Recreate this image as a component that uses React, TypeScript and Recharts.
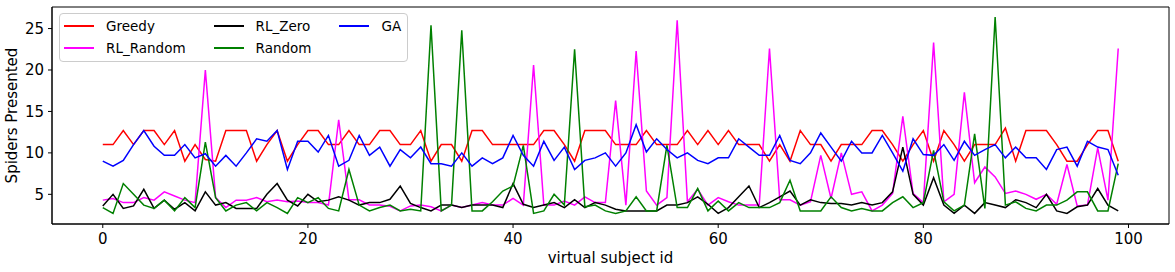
import { LineChart, Line, XAxis, YAxis, Legend, ReferenceArea } from 'recharts'

// virtual subjects 0..99
const subjectIds = Array.from({ length: 100 }, (_, i) => i)

const greedy = [
  11, 11, 12.7, 11, 12.7, 12.7, 11, 12.7, 9, 11,
  9.2, 9, 12.7, 12.7, 12.7, 9, 11, 12.7, 9, 11,
  12.7, 12.7, 11, 11, 12.7, 11, 11, 12.7, 12.7, 11,
  11, 12.7, 9, 11, 11, 9, 12.7, 12.7, 11, 11,
  11, 11, 11, 12.7, 12.7, 11, 9, 12.7, 12.7, 12.7,
  11, 11, 11, 12.7, 11, 11, 11, 12.7, 11, 12.7,
  11, 12.7, 11, 11, 11, 9, 11, 9, 12.7, 11,
  11, 9, 11, 11, 11, 12.7, 12.7, 11, 9, 11,
  12.7, 9, 12.7, 11, 9, 11, 11, 11, 13, 9,
  12.7, 12.7, 12.7, 11, 9, 9, 11, 12.7, 12.7, 9,
]

const rlRandom = [
  4.3, 4.5, 4.0, 4.0, 4.6, 4.3, 5.3, 4.8, 4.3, 4.0,
  20.0, 4.6, 3.4, 4.3, 4.3, 4.6, 4.1, 4.3, 4.1, 4.2,
  4.0, 4.0, 3.7, 14.0, 4.35, 4.35, 3.7, 3.7, 3.55, 3.0,
  3.6, 3.7, 3.5, 3.0, 3.7, 3.4, 3.7, 4.0, 3.7, 3.7,
  4.5, 3.7, 20.6, 3.7, 3.7, 4.2, 3.7, 4.7, 4.0, 4.0,
  16.3, 3.7, 22.3, 5.4, 3.7, 4.6, 26.0, 4.1, 5.6, 3.7,
  4.6, 4.1, 3.7, 3.7, 3.7, 22.6, 4.35, 4.35, 3.7, 4.1,
  9.7, 4.5, 10.0, 5.0, 5.3, 3.0, 3.7, 5.1, 14.4, 5.1,
  4.0, 23.3, 4.1, 5.0, 17.3, 6.4, 8.3, 7.1, 5.1, 5.4,
  5.0, 4.4, 5.0, 3.8, 8.6, 3.6, 3.7, 10.6, 4.3, 22.6,
]

const rlZero = [
  3.6, 5.0, 3.3, 3.6, 5.6, 3.3, 4.3, 3.2, 4.0, 3.0,
  5.3, 3.7, 4.0, 3.3, 3.3, 3.3, 5.0, 6.3, 4.3, 3.6,
  5.0, 4.1, 4.3, 4.7, 4.3, 3.7, 4.0, 4.0, 4.4, 6.0,
  3.9, 3.4, 3.0, 3.7, 3.7, 3.4, 3.7, 3.7, 3.7, 3.4,
  6.3, 3.8, 3.4, 3.7, 4.0, 3.4, 4.35, 3.4, 4.0, 3.7,
  3.2, 3.0, 3.0, 3.0, 3.0, 3.7, 3.7, 4.0, 4.7, 3.8,
  2.7, 3.4, 4.7, 6.0, 3.4, 4.0, 4.7, 5.4, 3.7, 4.35,
  4.0, 3.9, 3.9, 3.7, 4.0, 3.7, 4.0, 5.3, 10.7, 5.0,
  3.7, 7.0, 3.7, 2.7, 3.7, 2.7, 4.0, 3.7, 3.4, 4.35,
  4.0, 3.4, 5.0, 3.0, 2.7, 3.5, 3.7, 5.7, 3.7, 3.0,
]

const randomPolicy = [
  3.4, 2.7, 6.3, 5.0, 3.7, 3.3, 4.3, 3.0, 4.6, 3.4,
  11.3, 4.6, 3.0, 3.7, 4.0, 3.0, 4.0, 3.4, 2.7, 4.6,
  4.0, 4.6, 3.3, 3.0, 8.0, 3.7, 3.0, 3.4, 3.7, 3.0,
  3.2, 3.0, 25.4, 3.0, 3.7, 24.8, 3.0, 3.0, 4.1, 5.4,
  6.0, 10.9, 2.7, 3.0, 5.0, 3.7, 22.5, 3.5, 3.7, 3.0,
  2.7, 3.0, 4.7, 3.0, 3.0, 10.9, 3.4, 3.4, 5.7, 3.0,
  4.2, 3.0, 4.0, 3.4, 3.4, 3.4, 4.0, 6.7, 3.0, 3.0,
  3.0, 4.7, 3.4, 3.0, 3.3, 3.0, 3.0, 4.0, 4.7, 3.4,
  4.0, 10.3, 4.1, 3.0, 3.7, 12.3, 3.3, 26.4, 3.7, 4.1,
  3.3, 3.0, 3.7, 3.7, 4.3, 5.3, 5.3, 3.0, 3.0, 8.7,
]

const ga = [
  9.0, 8.4, 9.1, 11, 12.7, 10.8, 9.7, 9.7, 11, 9.4,
  9.9, 8.4, 9.7, 8.4, 10, 11.7, 11.4, 12.7, 8.0, 11.4,
  11.4, 10.1, 12.1, 8.4, 9.1, 12.1, 9.7, 10.7, 8.4, 10.4,
  9.4, 10.7, 8.7, 8.7, 8.4, 10, 8.4, 9.4, 8.7, 9.4,
  12.1, 9.7, 8.4, 11.4, 9.1, 10.7, 8.0, 9.1, 9.4, 10.0,
  8.4, 10.0, 13.4, 10.1, 11.7, 10.4, 9.4, 10.0, 9.1, 8.7,
  9.4, 9.4, 11.7, 10.7, 9.7, 9.7, 12.1, 9.1, 8.7, 10,
  12.4, 10.7, 9.0, 11.4, 10, 10, 12.1, 10, 7.8, 11.7,
  9.8, 9.7, 11, 9.1, 11.4, 9.7, 10.4, 11, 9.4, 10.7,
  9.4, 9.4, 8.0, 10.4, 10.7, 8.4, 11.4, 10.7, 10.4, 7.3,
]

const xTicks = [0, 20, 40, 60, 80, 100]
const yTicks = [5, 10, 15, 20, 25]
const xDomain = [-4.95, 103.95]
const yDomain = [1.42, 27.6]

const series = [
  { key: 'Greedy', values: greedy, color: '#ff0000' },
  { key: 'RL_Random', values: rlRandom, color: '#ff00ff' },
  { key: 'RL_Zero', values: rlZero, color: '#000000' },
  { key: 'Random', values: randomPolicy, color: '#008000' },
  { key: 'GA', values: ga, color: '#0000ff' },
]

const data = subjectIds.map((id, i) => {
  const row: Record<string, number> = { id }
  series.forEach(s => { row[s.key] = s.values[i] })
  return row
})

const FONT = '"DejaVu Sans", sans-serif'

// matplotlib style legend box, 2 rows filled column by column
const LegendBox = () => (
  <div
    style={{
      border: '1px solid #cccccc',
      borderRadius: 4,
      background: 'rgba(255,255,255,0.8)',
      padding: '1px 6px 2px 4px',
      display: 'grid',
      gridTemplateRows: '22px 22px',
      gridAutoFlow: 'column',
      columnGap: 28,
      fontFamily: FONT,
      fontSize: 13.5,
      color: '#000',
    }}
  >
    {series.map(s => (
      <div key={s.key} style={{ display: 'flex', alignItems: 'center', whiteSpace: 'nowrap' }}>
        <span style={{ display: 'inline-block', width: 30, height: 1.5, background: s.color, marginRight: 12 }} />
        <span>{s.key}</span>
      </div>
    ))}
  </div>
)

export default function App() {
  return (
    <div style={{ width: 1175, height: 272, background: '#fff' }}>
      <style>{`body { margin: 0; }`}</style>
      <LineChart width={1175} height={272} data={data} margin={{ top: 7, right: 6, left: 0, bottom: 0 }}>
        <XAxis
          dataKey="id"
          type="number"
          domain={xDomain}
          ticks={xTicks}
          height={48}
          stroke="#000"
          tickSize={4}
          tickMargin={5}
          tick={{ fill: '#000', fontSize: 15, fontFamily: FONT }}
          label={{ value: 'virtual subject id', position: 'insideBottom', offset: 9, fill: '#000', fontSize: 15, fontFamily: FONT }}
        />
        <YAxis
          type="number"
          domain={yDomain}
          allowDataOverflow
          ticks={yTicks}
          width={52}
          stroke="#000"
          tickSize={4}
          tickMargin={4}
          tick={{ fill: '#000', fontSize: 15, fontFamily: FONT }}
          label={{ value: 'Spiders Presented', angle: -90, position: 'insideLeft', offset: 12, fill: '#000', fontSize: 15, fontFamily: FONT, style: { textAnchor: 'middle' } }}
        />
        {/* plot frame (top and right spines) */}
        <ReferenceArea
          x1={xDomain[0]}
          x2={xDomain[1]}
          y1={yDomain[0]}
          y2={yDomain[1]}
          fill="none"
          stroke="#000"
          strokeWidth={1}
          ifOverflow="visible"
        />
        <Legend
          layout="horizontal"
          verticalAlign="middle"
          align="center"
          content={<LegendBox />}
          wrapperStyle={{ left: 59, top: 13, width: 'auto' }}
        />
        {series.map(s => (
          <Line
            key={s.key}
            type="linear"
            dataKey={s.key}
            stroke={s.color}
            strokeWidth={1.5}
            dot={false}
            isAnimationActive={false}
          />
        ))}
      </LineChart>
    </div>
  )
}
